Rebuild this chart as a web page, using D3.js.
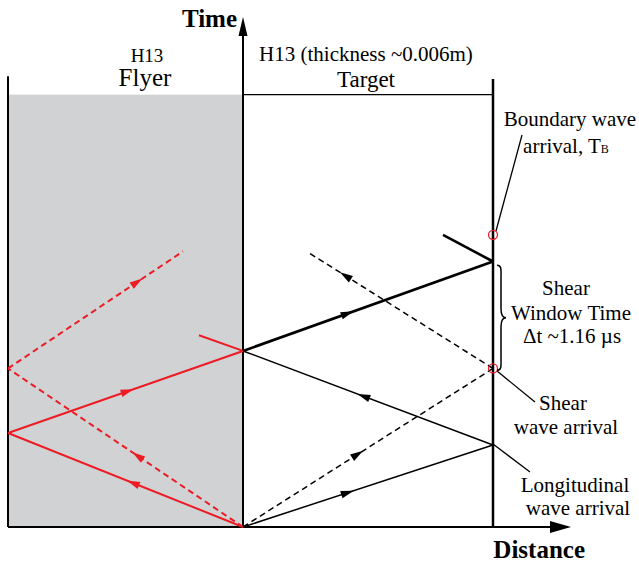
<!DOCTYPE html>
<html>
<head>
<meta charset="utf-8">
<script src="https://cdn.jsdelivr.net/npm/d3@7"></script>
<style>
  html, body { margin: 0; padding: 0; background: #fff; }
</style>
</head>
<body>
<svg id="chart" width="639" height="564"></svg>
<script>
'use strict';

// distance: target thickness = 1 (flyer on the negative side), time in microseconds
var flyerEdge = -0.94;
var targetEdge = 1;
var timeMax = 5.5;

// wave paths inside the target (black)
var targetRays = [
    { from: [0, 0],     to: [1, 0.89],     wave: 'L', weight: 'thin',  arrowAt: 0.42 },
    { from: [0, 0],     to: [1, 1.72],     wave: 'S', weight: 'thin',  arrowAt: 0.46 },
    { from: [1, 0.89],  to: [0, 1.91],     wave: 'L', weight: 'thin',  arrowAt: 0.52 },
    { from: [0, 1.91],  to: [1, 2.88],     wave: 'L', weight: 'thick', arrowAt: 0.42 },
    { from: [1, 2.88],  to: [0.8, 3.17],   wave: 'L', weight: 'thick', arrowAt: null },
    { from: [1, 1.72],  to: [0.26, 2.98],  wave: 'S', weight: 'thin',  arrowAt: 0.8 }
];

// wave paths inside the flyer (red)
var flyerRays = [
    { from: [0, 0],      to: [-0.94, 1.02], wave: 'L', arrowAt: 0.47 },
    { from: [-0.94, 1.02], to: [0, 1.91],   wave: 'L', arrowAt: 0.51 },
    { from: [0, 1.91],   to: [-0.176, 2.08], wave: 'L', arrowAt: null },
    { from: [0, 0],      to: [-0.94, 1.72], wave: 'S', arrowAt: 0.45 },
    { from: [-0.94, 1.72], to: [-0.24, 2.99], wave: 'S', arrowAt: 0.74 }
];

// marked arrivals on the rear face of the target
var arrivals = [
    { name: 'boundary', at: [1, 3.17] },
    { name: 'shear',    at: [1, 1.72] }
];

// shear window between the two arrivals
var shearWindow = [1.7, 2.84];

var serif = 'Liberation Serif';

var svg = d3.select('#chart');

var x = d3.scaleLinear().domain([flyerEdge, targetEdge]).range([8, 493]);
var y = d3.scaleLinear().domain([0, timeMax]).range([527, 20]);

var red = '#ec1c24';

// flyer block
svg.append('rect')
    .attr('x', x(flyerEdge))
    .attr('y', y(4.69))
    .attr('width', x(0) - x(flyerEdge))
    .attr('height', y(0) - y(4.69))
    .attr('fill', '#d1d2d4');

// target top edge
svg.append('line')
    .attr('x1', x(0)).attr('x2', x(targetEdge))
    .attr('y1', y(4.69)).attr('y2', y(4.69))
    .attr('stroke', '#000').attr('stroke-width', 1.4);

// flyer back face
svg.append('line')
    .attr('x1', x(flyerEdge)).attr('x2', x(flyerEdge))
    .attr('y1', y(4.89)).attr('y2', y(0))
    .attr('stroke', '#000').attr('stroke-width', 2);

// target rear face
svg.append('line')
    .attr('x1', x(targetEdge)).attr('x2', x(targetEdge))
    .attr('y1', y(4.86)).attr('y2', y(0))
    .attr('stroke', '#000').attr('stroke-width', 2.5);

// axes with arrows
svg.append('line')
    .attr('x1', x(flyerEdge)).attr('x2', 552)
    .attr('y1', y(0)).attr('y2', y(0))
    .attr('stroke', '#000').attr('stroke-width', 2);
svg.append('path')
    .attr('d', 'M571,' + y(0) + ' L550,' + (y(0) - 6) + ' L550,' + (y(0) + 6) + ' Z')
    .attr('fill', '#000');

svg.append('line')
    .attr('x1', x(0)).attr('x2', x(0))
    .attr('y1', y(0)).attr('y2', 34)
    .attr('stroke', '#000').attr('stroke-width', 2);
svg.append('path')
    .attr('d', 'M' + x(0) + ',17 L' + (x(0) - 4.5) + ',36 L' + (x(0) + 4.5) + ',36 Z')
    .attr('fill', '#000');

var drawRays = function (rays, color, widthFor) {
    var g = svg.append('g');

    rays.forEach(function (r) {
        var x1 = x(r.from[0]), y1 = y(r.from[1]);
        var x2 = x(r.to[0]), y2 = y(r.to[1]);

        g.append('line')
            .attr('x1', x1).attr('y1', y1)
            .attr('x2', x2).attr('y2', y2)
            .attr('stroke', color)
            .attr('stroke-width', widthFor(r))
            .attr('stroke-dasharray', r.wave === 'S' ? '6,4' : null);

        if (r.arrowAt === null)
            return;

        var ax = x1 + (x2 - x1) * r.arrowAt;
        var ay = y1 + (y2 - y1) * r.arrowAt;
        var angle = Math.atan2(y2 - y1, x2 - x1) * 180 / Math.PI;

        g.append('path')
            .attr('d', 'M6,0 L-7,-3.8 L-7,3.8 Z')
            .attr('transform', 'translate(' + ax + ',' + ay + ') rotate(' + angle + ')')
            .attr('fill', color);
    });
};

drawRays(flyerRays, red, function () { return 2; });
drawRays(targetRays, '#000', function (r) { return r.weight === 'thick' ? 2.6 : 1.5; });

// leader lines to the labels
var leaders = [
    [[496, 231], [522, 135]],
    [[497, 371], [535, 402]],
    [[493, 444], [530, 472]]
];
svg.append('g').selectAll('line')
    .data(leaders)
    .enter().append('line')
    .attr('x1', function (d) { return d[0][0]; })
    .attr('y1', function (d) { return d[0][1]; })
    .attr('x2', function (d) { return d[1][0]; })
    .attr('y2', function (d) { return d[1][1]; })
    .attr('stroke', '#000')
    .attr('stroke-width', 1.3);

// arrival circles
svg.append('g').selectAll('circle')
    .data(arrivals)
    .enter().append('circle')
    .attr('cx', function (d) { return x(d.at[0]); })
    .attr('cy', function (d) { return y(d.at[1]); })
    .attr('r', 4.5)
    .attr('fill', 'none')
    .attr('stroke', red)
    .attr('stroke-width', 1.3);

// curly brace for the shear window
var bx = x(targetEdge) + 4;
var bTop = y(shearWindow[1]), bBot = y(shearWindow[0]);
var bMid = (bTop + bBot) / 2;
svg.append('path')
    .attr('d', 'M' + bx + ',' + bTop +
        ' C' + (bx + 5) + ',' + bTop + ' ' + (bx + 4) + ',' + (bTop + 5) + ' ' + (bx + 4) + ',' + (bTop + 14) +
        ' L' + (bx + 4) + ',' + (bMid - 9) +
        ' C' + (bx + 4) + ',' + (bMid - 3) + ' ' + (bx + 6) + ',' + bMid + ' ' + (bx + 9) + ',' + bMid +
        ' C' + (bx + 6) + ',' + bMid + ' ' + (bx + 4) + ',' + (bMid + 3) + ' ' + (bx + 4) + ',' + (bMid + 9) +
        ' L' + (bx + 4) + ',' + (bBot - 14) +
        ' C' + (bx + 4) + ',' + (bBot - 5) + ' ' + (bx + 5) + ',' + bBot + ' ' + bx + ',' + bBot)
    .attr('fill', 'none')
    .attr('stroke', '#000')
    .attr('stroke-width', 1.5);

// texts
var addText = function (tx, ty, str, size, anchor, weight) {
    return svg.append('text')
        .attr('x', tx)
        .attr('y', ty)
        .attr('text-anchor', anchor || 'middle')
        .attr('font-family', serif)
        .attr('font-size', size)
        .attr('font-weight', weight || 'normal')
        .text(str);
};

addText(237, 27, 'Time', 25, 'end', 'bold');
addText(585, 558, 'Distance', 25, 'end', 'bold');

addText(147, 62, 'H13', 19);
addText(145, 86, 'Flyer', 25);
addText(366, 61, 'H13 (thickness ~0.006m)', 21);
addText(366, 87, 'Target', 23);

addText(570, 126, 'Boundary wave', 21);
var tb = addText(566, 153, 'arrival, T', 21);
tb.append('tspan').attr('font-size', 12).text('B');

addText(566, 295, 'Shear', 21);
addText(571, 320, 'Window Time', 21);
addText(572, 343, 'Δt ~1.16 µs', 21);

addText(563, 410, 'Shear', 21);
addText(566, 434, 'wave arrival', 21);
addText(575, 492, 'Longitudinal', 21);
addText(578, 515, 'wave arrival', 21);
</script>
</body>
</html>
